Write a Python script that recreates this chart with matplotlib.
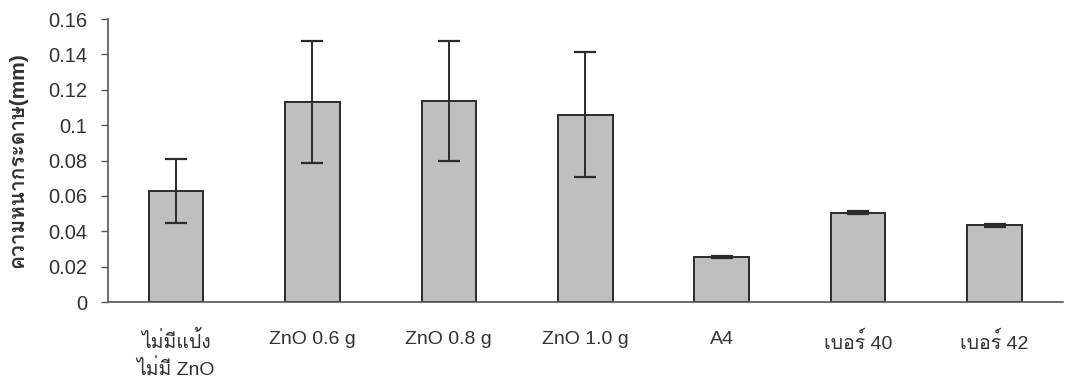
import matplotlib
matplotlib.use("Agg")
import matplotlib.pyplot as plt
from matplotlib import font_manager
import numpy as np

samples = ["ไม่มีแป้ง\nไม่มี ZnO", "ZnO 0.6 g", "ZnO 0.8 g", "ZnO 1.0 g", "A4", "เบอร์ 40", "เบอร์ 42"]
thickness = [0.063, 0.113, 0.1135, 0.106, 0.0255, 0.0505, 0.0435]
err = [0.018, 0.0345, 0.034, 0.0355, 0.0004, 0.0008, 0.0008]
yticks = [0, 0.02, 0.04, 0.06, 0.08, 0.1, 0.12, 0.14, 0.16]
ylabel = "ความหนากระดาษ(mm)"


def find_thai_font():
    # look for any installed font that has Thai glyphs
    try:
        from fontTools.ttLib import TTFont
    except Exception:
        return None
    for f in font_manager.fontManager.ttflist:
        try:
            tt = TTFont(f.fname, fontNumber=0, lazy=True)
            cmap = tt.getBestCmap()
            if cmap and 0x0E01 in cmap and 0x0E49 in cmap:
                return f.name
        except Exception:
            continue
    return None


thai = find_thai_font()
fams = ["Liberation Sans", "DejaVu Sans"]
if thai:
    fams = ["Liberation Sans", thai, "DejaVu Sans"]
plt.rcParams["font.family"] = fams

fig = plt.figure(figsize=(10.67, 3.81), dpi=100)
ax = fig.add_axes([0.101, 0.207, 0.895, 0.743])

x = np.arange(len(samples))
ax.bar(x, thickness, width=0.4, color="#bfbfbf", edgecolor="#2b2b2b", linewidth=1.4,
       yerr=err, capsize=8, error_kw=dict(ecolor="#2b2b2b", elinewidth=1.4, capthick=1.6))

ax.set_xlim(-0.5, len(samples) - 0.5)
ax.set_ylim(0, 0.16)
ax.set_yticks(yticks)
ax.set_yticklabels([f"{v:g}" for v in yticks], fontsize=14.5, color="#333333")
ax.set_xticks(x)
ax.set_xticklabels(samples, fontsize=14, color="#333333", linespacing=1.45)
ax.tick_params(axis="x", length=0, pad=21)
ax.tick_params(axis="y", length=5, width=1, color="#555555", direction="out", pad=10)
ax.set_ylabel(ylabel, fontsize=15, fontweight="bold", color="#333333")
ax.yaxis.set_label_coords(-0.084, 0.5)

for s in ["top", "right"]:
    ax.spines[s].set_visible(False)
for s in ["left", "bottom"]:
    ax.spines[s].set_color("#555555")
    ax.spines[s].set_linewidth(1.2)

fig.savefig("out.png", dpi=100)
